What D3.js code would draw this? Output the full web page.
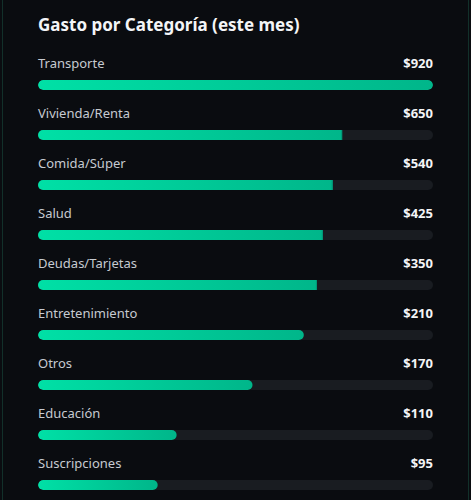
<!DOCTYPE html>
<html>
<head>
<meta charset="utf-8">
<script src="https://cdn.jsdelivr.net/npm/d3@7"></script>
<style>
  html, body { margin: 0; padding: 0; background: #0a0c10; }
  svg { display: block; }
</style>
</head>
<body>
<div id="chart"></div>
<script>
// data
const categories = ["Transporte", "Vivienda/Renta", "Comida/Súper", "Salud", "Deudas/Tarjetas",
  "Entretenimiento", "Otros", "Educación", "Suscripciones"];
const amounts = [920, 650, 540, 425, 350, 210, 170, 110, 95];
// how far each bar is filled (0..1) as shown
const fillShare = [1.0, 0.770, 0.746, 0.721, 0.706, 0.673, 0.543, 0.351, 0.303];

// bars caught mid-transition have a flat right end
const flatEnd = new Set(["Vivienda/Renta", "Comida/Súper", "Salud", "Deudas/Tarjetas"]);

const W = 471, H = 500;
const svg = d3.select("#chart").append("svg")
  .attr("width", W)
  .attr("height", H);

// card
svg.append("rect")
  .attr("x", 2.5).attr("y", -20)
  .attr("width", W - 5).attr("height", H + 40)
  .attr("rx", 10)
  .attr("fill", "#0a0c10")
  .attr("stroke", "#12302a")
  .attr("stroke-width", 1);

svg.append("text")
  .attr("x", 38).attr("y", 30.5)
  .attr("font-family", "'Noto Sans', sans-serif")
  .attr("font-size", 17)
  .attr("font-weight", 700)
  .attr("fill", "#f4f5f7")
  .text("Gasto por Categoría (este mes)");

const defs = svg.append("defs");
const grad = defs.append("linearGradient").attr("id", "barGrad");
grad.append("stop").attr("offset", "0%").attr("stop-color", "#00e0a6");
grad.append("stop").attr("offset", "100%").attr("stop-color", "#00b68a");

const x = d3.scaleLinear().domain([0, 1]).range([38, 433]);
const y = d3.scaleBand().domain(categories).range([50, 500]).paddingInner(0);
const barH = 10;

const rows = svg.selectAll("g.row")
  .data(categories.map((c, i) => ({ cat: c, amt: amounts[i], share: fillShare[i], i })))
  .enter().append("g")
  .attr("class", "row")
  .attr("transform", d => `translate(0,${y(d.cat)})`);

rows.append("text")
  .attr("x", x(0)).attr("y", 18.3)
  .attr("font-family", "'Noto Sans', sans-serif")
  .attr("font-size", 13)
  .attr("fill", "#c6cad0")
  .text(d => d.cat);

rows.append("text")
  .attr("x", x(1)).attr("y", 18.3)
  .attr("text-anchor", "end")
  .attr("font-family", "'Noto Sans', sans-serif")
  .attr("font-size", 13)
  .attr("font-weight", 700)
  .attr("fill", "#f4f5f7")
  .text(d => "$" + d.amt);

// track + clip
rows.each(function (d) {
  defs.append("clipPath").attr("id", "clip" + d.i)
    .append("rect")
    .attr("x", x(0)).attr("y", 30 + y(d.cat))
    .attr("width", x(1) - x(0)).attr("height", barH)
    .attr("rx", barH / 2);
});

rows.append("rect")
  .attr("x", x(0)).attr("y", 30)
  .attr("width", x(1) - x(0)).attr("height", barH)
  .attr("rx", barH / 2)
  .attr("fill", "#191c21");

const fills = rows.append("g")
  .attr("transform", d => `translate(0,${-y(d.cat)})`)
  .attr("clip-path", d => `url(#clip${d.i})`);

fills.append("rect")
  .attr("x", x(0))
  .attr("y", d => y(d.cat) + 30)
  .attr("width", d => x(d.share) - x(0))
  .attr("height", barH)
  .attr("rx", d => flatEnd.has(d.cat) ? 0 : barH / 2)
  .attr("fill", "url(#barGrad)");

// thin darker edge on the flat ends
fills.filter(d => flatEnd.has(d.cat)).append("rect")
  .attr("x", d => x(d.share) - 1)
  .attr("y", d => y(d.cat) + 30)
  .attr("width", 1)
  .attr("height", barH)
  .attr("fill", "#00997a");
</script>
</body>
</html>
